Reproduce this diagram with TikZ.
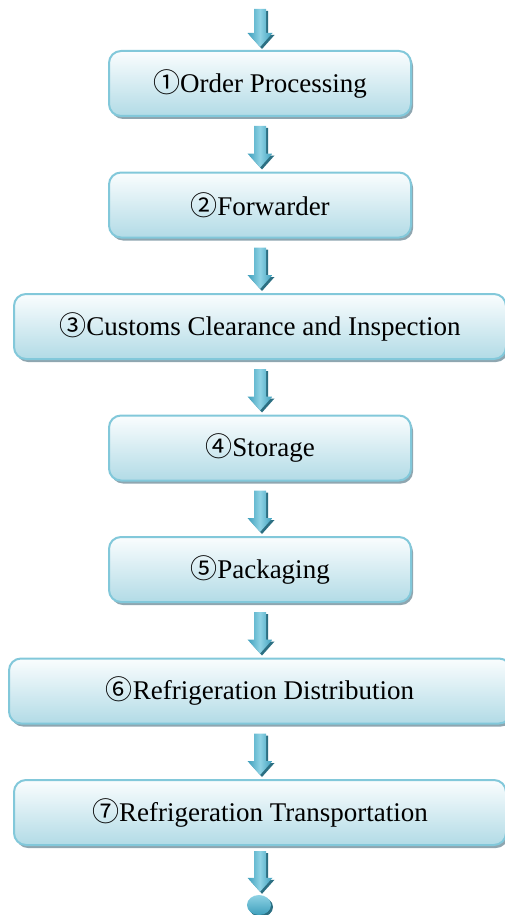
\documentclass[tikz,border=0pt]{standalone}
\usepackage{fontspec}
\setmainfont{Liberation Serif}
\newfontfamily\circfont{Noto Sans CJK SC}
\usepackage{tikz}
\usetikzlibrary{positioning,calc,shadows,shapes.geometric}
\definecolor{boxedge}{HTML}{82C8DA}
\definecolor{boxtop}{HTML}{FAFDFE}
\definecolor{boxbot}{HTML}{B2DBE6}
\definecolor{boxshadow}{HTML}{8FA6B0}
\definecolor{arrowlight}{HTML}{8ED2E4}
\definecolor{arrowdark}{HTML}{3E9FBC}
\definecolor{arrowshadow}{HTML}{2C6F82}
\tikzstyle{stepbox} = [draw=boxedge, line width=2pt, rounded corners=12pt, top color=boxtop, bottom color=boxbot,
  minimum height=65pt, minimum width=302pt, font=\fontsize{27}{30}\selectfont,
  drop shadow={shadow xshift=2pt, shadow yshift=-3pt, fill=boxshadow, opacity=1}]
\tikzstyle{arrowbody} = [left color=arrowdark, right color=arrowdark, middle color=arrowlight]
\tikzstyle{arrowshade} = [fill=arrowshadow]
% block arrow from #1 down to #2
\newcommand{\flowlink}[2]{%
  \foreach \sty/\sh in {arrowshade/2, arrowbody/0}
    \path[\sty] let \p1=(#1), \p2=(#2) in
      (\x1-6pt+\sh pt,\y1-\sh pt) -- (\x1+6pt+\sh pt,\y1-\sh pt) -- (\x1+6pt+\sh pt,\y2+14pt-\sh pt)
      -- (\x1+12.5pt+\sh pt,\y2+14pt-\sh pt) -- (\x1+\sh pt,\y2-\sh pt)
      -- (\x1-12.5pt+\sh pt,\y2+14pt-\sh pt) -- (\x1-6pt+\sh pt,\y2+14pt-\sh pt) -- cycle;
}
\begin{document}
\begin{tikzpicture}[x=1pt,y=1pt,node distance=54.5pt]
  \useasboundingbox (0,0) rectangle (504,-915);
  \coordinate (entry) at (260,-9);
  \node[stepbox] (order) at (260,-83.5) {{\circfont ①}Order Processing};
  \node[stepbox] (forwarder) [below = of order] {{\circfont ②}Forwarder};
  \node[stepbox, minimum width=492pt] (customs) [below = of forwarder] {{\circfont ③}Customs Clearance and Inspection};
  \node[stepbox] (storage) [below = of customs] {{\circfont ④}Storage};
  \node[stepbox] (packaging) [below = of storage] {{\circfont ⑤}Packaging};
  \node[stepbox, minimum width=502pt] (distrib) [below = of packaging] {{\circfont ⑥}Refrigeration Distribution};
  \node[stepbox, minimum width=492pt] (transport) [below = of distrib] {{\circfont ⑦}Refrigeration Transportation};
  \node[ellipse, minimum width=24pt, minimum height=20pt, inner sep=0pt, top color=arrowlight, bottom color=arrowdark,
    drop shadow={shadow xshift=2pt, shadow yshift=-2pt, fill=arrowshadow, opacity=1}] (stop) at (259,-905) {};
  \flowlink{entry}{$(order.north)+(0,3)$}
  \flowlink{$(order.south)+(0,-9)$}{$(forwarder.north)+(0,4)$}
  \flowlink{$(forwarder.south)+(0,-9)$}{$(customs.north)+(0,4)$}
  \flowlink{$(customs.south)+(0,-9)$}{$(storage.north)+(0,4)$}
  \flowlink{$(storage.south)+(0,-9)$}{$(packaging.north)+(0,4)$}
  \flowlink{$(packaging.south)+(0,-9)$}{$(distrib.north)+(0,4)$}
  \flowlink{$(distrib.south)+(0,-9)$}{$(transport.north)+(0,4)$}
  \flowlink{$(transport.south)+(0,-5)$}{$(stop.north)+(0,3)$}
\end{tikzpicture}
\end{document}
